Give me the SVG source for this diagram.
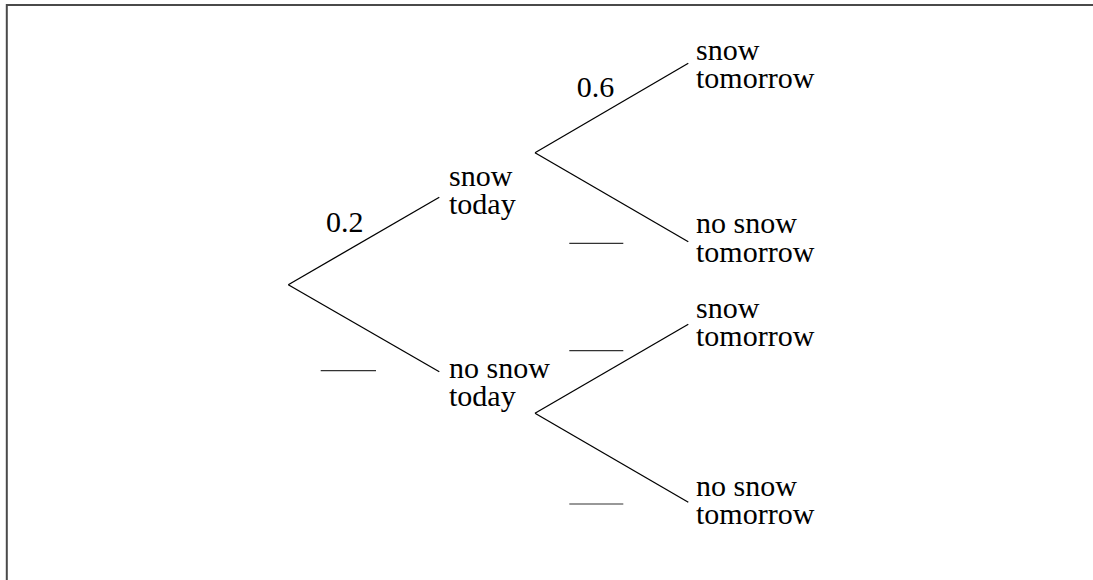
<svg xmlns="http://www.w3.org/2000/svg" width="1093" height="580" viewBox="0 0 1093 580">
<style>
.t{font-family:"Liberation Serif","Times New Roman",serif;font-size:30px;fill:#000}
.e{stroke:#000;stroke-width:1.3;fill:none}
.b{stroke:#333;stroke-width:1.2}
</style>
<rect x="0" y="0" width="1093" height="580" fill="#fff"/>
<path d="M6.8 580 V5 H1093" fill="none" stroke="#4a4a4a" stroke-width="2"/>
<g id="connectors">
<line class="e" x1="288.3" y1="284.7" x2="439.3" y2="197.3"/>
<line class="e" x1="288.3" y1="284.7" x2="439.3" y2="371.7"/>
<line class="e" x1="535" y1="152.7" x2="688.3" y2="63.3"/>
<line class="e" x1="535" y1="152.7" x2="688.3" y2="241.7"/>
<line class="e" x1="535" y1="413.3" x2="688.3" y2="324.3"/>
<line class="e" x1="535" y1="413.3" x2="688.3" y2="502.3"/>
</g>
<g id="labels">
<text class="t" x="326" y="232.3">0.2</text>
<text class="t" x="576.7" y="97.3">0.6</text>
<line class="b" x1="320.7" y1="370.7" x2="376" y2="370.7"/>
<line class="b" x1="569.3" y1="243.3" x2="623.3" y2="243.3"/>
<line class="b" x1="569.3" y1="350.7" x2="623.3" y2="350.7"/>
<line class="b" x1="569.3" y1="504" x2="623.3" y2="504"/>
</g>
<g id="snow-today"><text class="t" x="449" y="185.7">snow<tspan x="449" dy="28">today</tspan></text></g>
<g id="no-snow-today"><text class="t" x="449" y="377.7">no snow<tspan x="449" dy="28">today</tspan></text></g>
<g id="snow-tomorrow-1"><text class="t" x="696" y="60">snow<tspan x="696" dy="28.3">tomorrow</tspan></text></g>
<g id="no-snow-tomorrow-1"><text class="t" x="696" y="233.3">no snow<tspan x="696" dy="28.3">tomorrow</tspan></text></g>
<g id="snow-tomorrow-2"><text class="t" x="696" y="318">snow<tspan x="696" dy="28">tomorrow</tspan></text></g>
<g id="no-snow-tomorrow-2"><text class="t" x="696" y="495.7">no snow<tspan x="696" dy="28.3">tomorrow</tspan></text></g>
</svg>
